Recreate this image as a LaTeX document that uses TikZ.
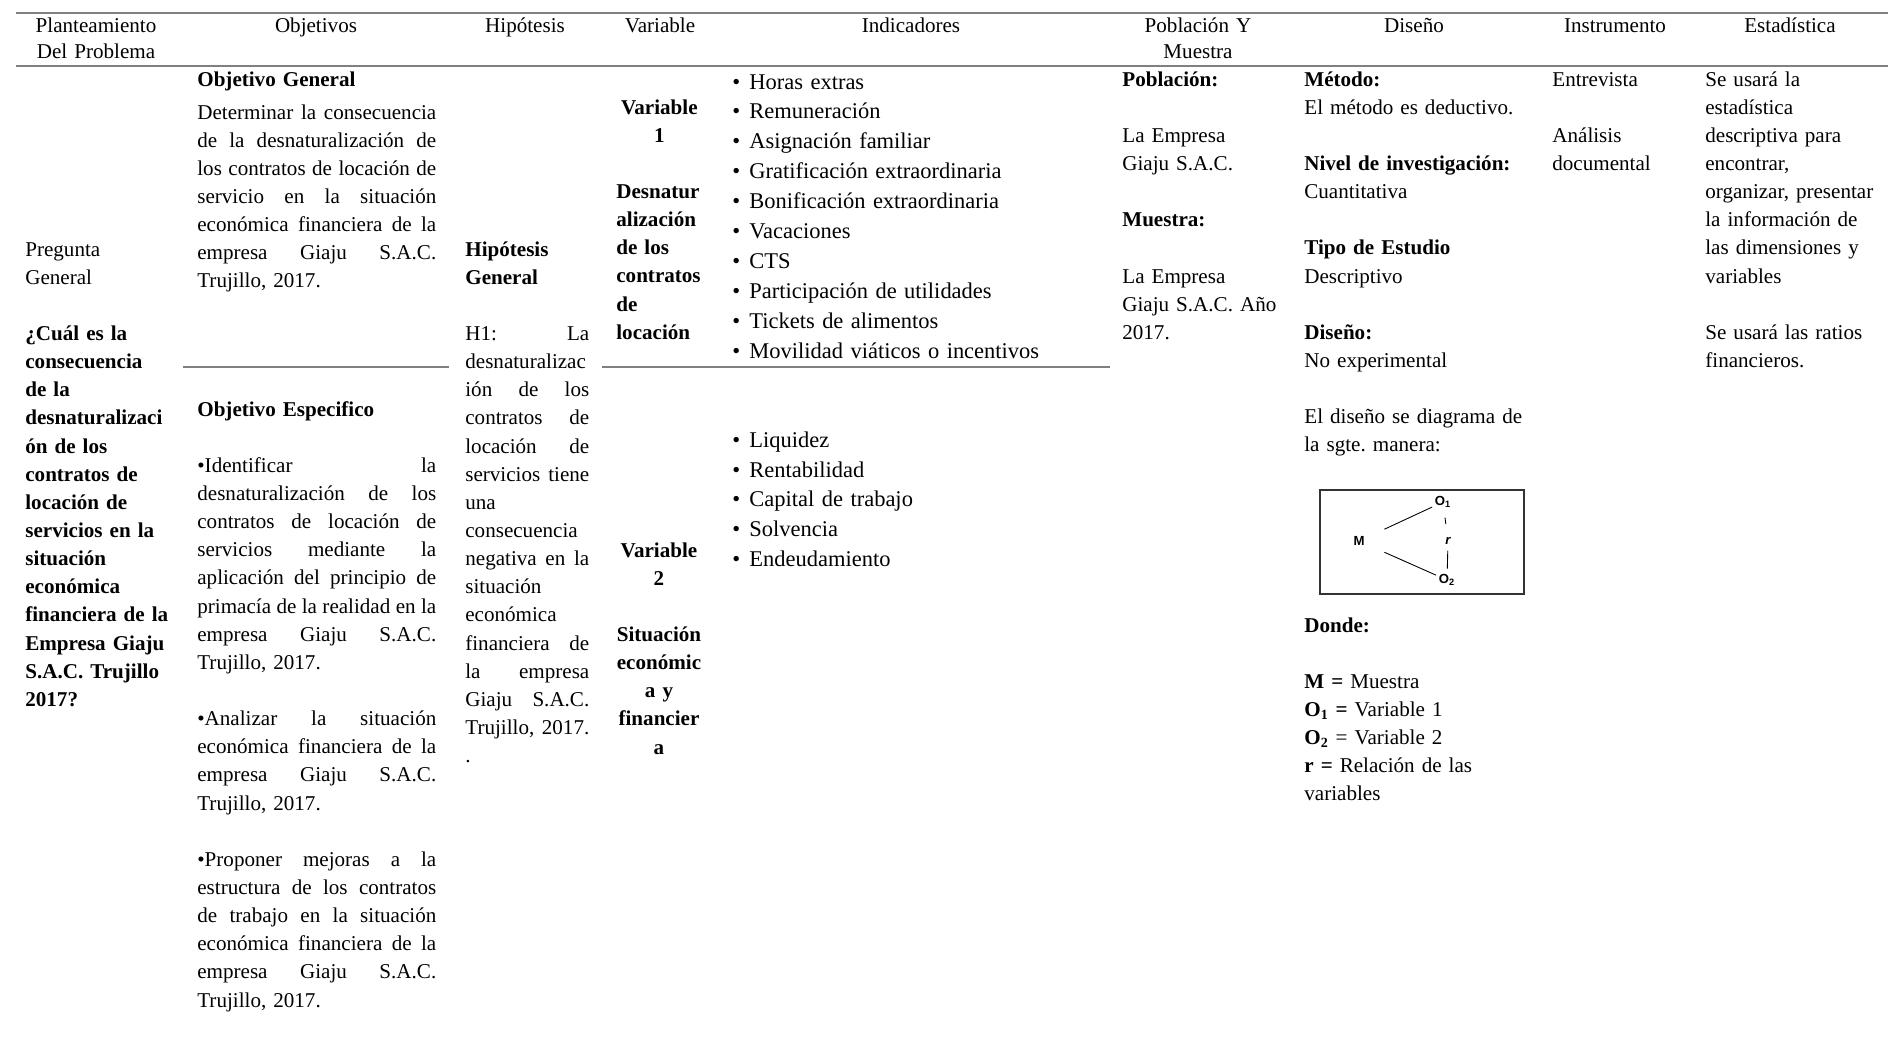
\documentclass[tikz,border=0pt]{standalone}
\usepackage{fontspec}
\setmainfont{Liberation Serif}
\newfontfamily\diagfont{Liberation Sans}
\newcommand{\bodysize}{\fontsize{12}{16.02}\selectfont}
\newcommand{\diagsize}{\diagfont\fontsize{7.5}{9}\selectfont\bfseries}
\newlength{\colw}
\newcommand{\jline}[1]{\leavevmode\hbox to \colw{\spaceskip=0.25em plus 1fil\xspaceskip=0.25em plus 1fil\relax #1}}
\newcommand{\gap}{\\[\baselineskip]}
\newcommand{\ib}{\makebox[0.34cm][l]{\textbullet}}

\begin{document}
\begin{tikzpicture}[x=0.02cm,y=-0.02cm,
	every node/.style={inner sep=0pt},
	rule/.style={draw=black!50,line width=1.1pt},
	head/.style={anchor=base,align=center,text width=3.4cm,font=\fontsize{12}{15.2}\selectfont},
	cell/.style={anchor=base west,align=left,font=\bodysize},
	indic/.style={anchor=base west,align=left,text width=7cm,font=\fontsize{12.8}{17.07}\selectfont},
	diag/.style={font=\diagsize}]
	\useasboundingbox (0,0) rectangle (1888,1042);
	\draw[rule] (16,13) -- (1888,13);
	\draw[rule] (16,66) -- (1888,66);
	\draw[rule] (183,367) -- (449,367);
	\draw[rule] (602,367) -- (1110,367);

	\node[head] (h_plan) at (96,32) {Planteamiento\\Del Problema};
	\node[head] (h_obj) at (316,32) {Objetivos};
	\node[head] (h_hip) at (525,32) {Hipótesis};
	\node[head] (h_var) at (660,32) {Variable};
	\node[head] (h_ind) at (911,32) {Indicadores};
	\node[head] (h_pob) at (1198,32) {Población Y\\Muestra};
	\node[head] (h_dis) at (1414,32) {Diseño};
	\node[head] (h_ins) at (1615,32) {Instrumento};
	\node[head] (h_est) at (1790,32) {Estadística};

	\node[cell,text width=3.2cm] (plan) at (25,256) {Pregunta\\General\gap \bfseries ¿Cuál es la\\consecuencia\\de la\\desnaturalizaci\\ón de los\\contratos de\\locación de\\servicios en la\\situación\\económica\\financiera de la\\Empresa Giaju\\S.A.C. Trujillo\\2017?};

	\node[cell,text width=4.78cm] (obj_gen) at (197,86) {\textbf{Objetivo General}};
	\node[cell,text width=5cm] (obj_gen_txt) at (197,119) {\colw=4.78cm \jline{Determinar la consecuencia}\\ \jline{de la desnaturalización de}\\ \jline{los contratos de locación de}\\ \jline{servicio en la situación}\\ \jline{económica financiera de la}\\ \jline{empresa Giaju S.A.C.}\\ Trujillo, 2017.};
	\node[cell,text width=5cm] (obj_esp) at (197,416) {\colw=4.78cm \textbf{Objetivo Especifico}\gap \jline{•Identificar la}\\ \jline{desnaturalización de los}\\ \jline{contratos de locación de}\\ \jline{servicios mediante la}\\ \jline{aplicación del principio de}\\ \jline{primacía de la realidad en la}\\ \jline{empresa Giaju S.A.C.}\\ Trujillo, 2017.\gap \jline{•Analizar la situación}\\ \jline{económica financiera de la}\\ \jline{empresa Giaju S.A.C.}\\ Trujillo, 2017.\gap \jline{•Proponer mejoras a la}\\ \jline{estructura de los contratos}\\ \jline{de trabajo en la situación}\\ \jline{económica financiera de la}\\ \jline{empresa Giaju S.A.C.}\\ Trujillo, 2017.};

	\node[cell,text width=2.8cm] (hip) at (465,256) {\colw=2.48cm \textbf{Hipótesis}\\ \textbf{General}\gap \jline{H1: La}\\ desnaturalizac\\ \jline{ión de los}\\ \jline{contratos de}\\ \jline{locación de}\\ \jline{servicios tiene}\\ una\\ consecuencia\\ \jline{negativa en la}\\ situación\\ económica\\ \jline{financiera de}\\ \jline{la empresa}\\ \jline{Giaju S.A.C.}\\ \jline{Trujillo, 2017.}\\ .};

	\node[cell,text width=1.72cm,font=\bodysize\bfseries] (var1) at (616,114) {\makebox[1.72cm]{Variable}\\ \makebox[1.72cm]{1}\gap Desnatur\\ alización\\ de los\\ contratos\\ de\\ locación};
	\node[cell,anchor=base,align=center,text width=1.72cm,font=\bodysize\bfseries] (var2) at (659,557) {Variable\\2\gap Situación\\económic\\a y\\financier\\a};

	\node[indic] (ind1) at (732,89) {\ib Horas extras\\ \ib Remuneración\\ \ib Asignación familiar\\ \ib Gratificación extraordinaria\\ \ib Bonificación extraordinaria\\ \ib Vacaciones\\ \ib CTS\\ \ib Participación de utilidades\\ \ib Tickets de alimentos\\ \ib Movilidad viáticos o incentivos};
	\node[indic] (ind2) at (732,447) {\ib Liquidez\\ \ib Rentabilidad\\ \ib Capital de trabajo\\ \ib Solvencia\\ \ib Endeudamiento};

	\node[cell,text width=3.6cm] (pob) at (1122,86) {\textbf{Población:}\gap La Empresa\\Giaju S.A.C.\gap \textbf{Muestra:}\gap La Empresa\\Giaju S.A.C. Año\\2017.};

	\node[cell,text width=5cm] (dis) at (1304,86) {\textbf{Método:}\\El método es deductivo.\gap \textbf{Nivel de investigación:}\\Cuantitativa\gap \textbf{Tipo de Estudio}\\Descriptivo\gap \textbf{Diseño:}\\No experimental\gap El diseño se diagrama de\\la sgte.\ manera:};

	\draw[black!80,line width=0.6pt] (1320,490) rectangle (1524,594);
	\node[diag,minimum width=28.5pt,minimum height=17pt] (m) at (1359,541) {M};
	\node[diag] (o1) at (1443,502) {O\textsubscript{1}};
	\node[diag] (o2) at (1447,580) {O\textsubscript{2}};
	\node[diag,font=\diagsize\itshape] (r) at (1448,541) {r};
	\draw[line width=0.5pt,shorten >=1.5pt] (m) -- (o1);
	\draw[line width=0.5pt,shorten >=1.5pt] (m) -- (o2);
	\draw[line width=0.5pt,shorten <=5.5pt,shorten >=7.5pt] (o1) -- (r);
	\draw[line width=0.5pt,shorten <=3.2pt,shorten >=3.1pt] (r) -- (o2);

	\node[cell,text width=5cm] (donde) at (1304,632) {\textbf{Donde:}\gap \textbf{M =} Muestra\\ \textbf{O\textsubscript{1} =} Variable 1\\ \textbf{O\textsubscript{2}} = Variable 2\\ \textbf{r =} Relación de las\\variables};

	\node[cell,text width=3cm] (ins) at (1552,86) {Entrevista\gap Análisis\\documental};

	\node[cell,text width=3.6cm] (est) at (1705,86) {Se usará la\\estadística\\descriptiva para\\encontrar,\\organizar, presentar\\la información de\\las dimensiones y\\variables\gap Se usará las ratios\\financieros.};
\end{tikzpicture}
\end{document}
